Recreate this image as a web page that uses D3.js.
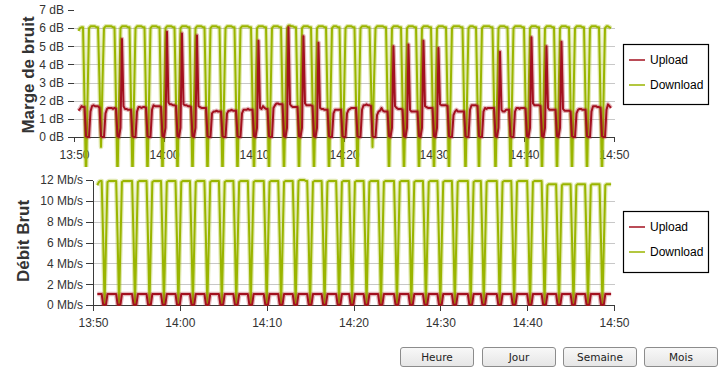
<!DOCTYPE html>
<html>
<head>
<meta charset="utf-8">
<script src="https://cdn.jsdelivr.net/npm/d3@7"></script>
<style>
body { margin: 0; background: #fff; }
#graphes { position: relative; width: 721px; height: 369px; overflow: hidden; }
.axe text { font: 12px "Liberation Sans", Arial, sans-serif; fill: #333; }
.axe path, .axe line { stroke: #3a3a3a; shape-rendering: crispEdges; }
.grille line { stroke: #c8c8c8; shape-rendering: crispEdges; }
.titre { font: bold 17px "Liberation Sans", Arial, sans-serif; fill: #333; }
.legende text { font: 12px "Liberation Sans", Arial, sans-serif; fill: #000; }
.bouton { position: absolute; top: 347px; height: 20px; width: 74px; box-sizing: border-box;
  border: 1px solid #8c8c8c; border-radius: 3px; background: linear-gradient(#f8f8f8, #e6e6e6);
  font: 10.5px "DejaVu Sans", Verdana, sans-serif; color: #222; padding: 0; }
</style>
</head>
<body>
<div id="graphes"></div>
<script>
// Echantillons toutes les 10 s a partir de 13:50:30
var debut = new Date(2014, 0, 1, 13, 50, 0),
    fin = new Date(2014, 0, 1, 14, 50, 0),
    premierPoint = 30,
    pas = 10;

var series = ["Upload", "Download"];
var couleurs = ["#a3101f", "#9ab500"];

var ticksMarge = [0, 1, 2, 3, 4, 5, 6, 7];
var ticksDebit = [0, 2, 4, 6, 8, 10, 12];

// Marge de bruit (dB)
var uploadMarge = [
  1.45, 1.55, 1.7,
  1.65, 1.65, 0.05, 0, 0, 1.4, 1.7, 1.75, 1.7, 1.7,
  1.7, 1.6, 0.05, 0, 0, 1.3, 1.55, 1.6, 1.6, 1.6, 1.55,
  1.6, 1.55, 0.05, 0, 0.5, 5.4, 1.7, 1.55, 1.55, 1.5,
  1.5, 1.5, 0.05, 0, 0, 1.4, 1.65, 1.65, 1.6, 1.65,
  1.65, 1.6, 0.05, 0, 0, 1.5, 1.75, 1.7, 1.7, 1.7,
  1.7, 1.65, 0.05, 0, 0.5, 5.8, 1.9, 1.8, 1.8, 1.75,
  1.75, 1.7, 0.05, 0, 0.5, 5.7, 1.8, 1.75, 1.75, 1.7,
  1.7, 1.65, 0.05, 0, 0.5, 5.6, 1.7, 1.65, 1.6, 1.6,
  1.6, 1.6, 0.05, 0, 0, 1.3, 1.4, 1.4, 1.45, 1.4,
  1.4, 1.4, 0.05, 0, 0, 1.3, 1.45, 1.45, 1.5, 1.45,
  1.45, 1.45, 0.05, 0, 0, 1.3, 1.5, 1.5, 1.5, 1.55, 1.5,
  1.5, 1.5, 0.05, 0, 0.5, 5.3, 1.6, 1.55, 1.7, 1.6,
  1.55, 1.55, 0.05, 0, 0, 1.6, 1.75, 1.85, 1.85, 1.8,
  1.8, 1.8, 0.05, 0, 0.5, 6.05, 1.8, 1.7, 1.65, 1.65,
  1.65, 1.65, 0.05, 0, 0.5, 5.55, 1.85, 1.75, 1.75, 1.75,
  1.75, 1.7, 0.05, 0, 0.5, 5.2, 1.6, 1.55, 1.55, 1.5,
  1.5, 1.5, 0.05, 0, 0, 1.3, 1.5, 1.5, 1.5,
  1.5, 1.5, 0.05, 0, 0, 1.3, 1.5, 1.55, 1.6, 1.6,
  1.6, 1.6, 0.05, 0, 0, 1.5, 1.75, 1.75, 1.8, 1.75,
  1.75, 1.7, 0.05, 0, 0, 1.2, 1.4, 1.45, 1.6, 1.45, 1.4,
  1.4, 1.4, 0.05, 0, 0.5, 5.0, 1.7, 1.6, 1.55, 1.55,
  1.55, 1.5, 0.05, 0, 0.5, 5.1, 1.5, 1.4, 1.4, 1.4,
  1.4, 1.4, 0.05, 0, 0.5, 5.3, 1.7, 1.65, 1.6, 1.6,
  1.6, 1.6, 0.05, 0, 0.5, 4.9, 1.8, 1.75, 1.75, 1.75,
  1.75, 1.7, 0.05, 0, 0, 1.2, 1.4, 1.5, 1.4, 1.4, 1.4,
  1.4, 1.4, 0.05, 0, 0, 1.5, 1.75, 1.75, 1.75,
  1.75, 1.7, 0.05, 0, 0, 1.4, 1.6, 1.55, 1.6, 1.6, 1.6,
  1.6, 1.6, 0.05, 0, 0.5, 4.7, 1.5, 1.4, 1.4, 1.5,
  1.5, 1.5, 0.05, 0, 0, 1.4, 1.6, 1.6, 1.55, 1.6, 1.6,
  1.6, 1.55, 0.05, 0, 0.5, 5.5, 1.85, 1.75, 1.75, 1.75,
  1.75, 1.7, 0.05, 0, 0.5, 5.0, 1.6, 1.5, 1.5, 1.5,
  1.5, 1.5, 0.05, 0, 0.5, 5.25, 1.55, 1.45, 1.45, 1.45,
  1.45, 1.4, 0.05, 0, 0, 1.3, 1.5, 1.55, 1.55, 1.5,
  1.5, 1.5, 0.05, 0, 0, 1.4, 1.7, 1.7, 1.7, 1.65,
  1.65, 1.6, 0.05, 0, 0, 1.5, 1.8, 1.7, 1.6
];

var downloadMarge = [
  5.85, 6.0, 6.05,
  6.05, 2.0, -2.5, 2.0, 6.0, 6.1, 6.1, 6.1, 6.1, 6.05,
  6.05, 3.0, -0.55, 3.0, 6.0, 6.1, 6.1, 6.1, 6.1, 6.1, 6.05,
  6.05, 2.0, -2.5, 2.0, 6.0, 6.1, 6.1, 6.1, 6.1, 6.05,
  6.05, 2.0, -2.5, 2.0, 6.0, 6.1, 6.1, 6.1, 6.1, 6.05,
  6.05, 2.0, -2.5, 2.0, 6.0, 6.1, 6.1, 6.1, 6.1, 6.05,
  6.05, 2.0, -2.5, 2.0, 6.0, 6.1, 6.1, 6.1, 6.1, 6.05,
  6.05, 2.0, -2.5, 2.0, 6.0, 6.1, 6.1, 6.1, 6.1, 6.05,
  6.05, 2.0, -2.5, 2.0, 6.0, 6.1, 6.1, 6.1, 6.1, 6.05,
  6.05, 2.0, -2.5, 2.0, 6.0, 6.1, 6.1, 6.1, 6.1, 6.05,
  6.05, 2.0, -2.5, 2.0, 6.0, 6.1, 6.1, 6.1, 6.1, 6.05,
  6.05, 2.0, -2.5, 2.0, 6.0, 6.1, 6.1, 6.1, 6.1, 6.1, 6.05,
  6.05, 2.0, -2.5, 2.0, 6.0, 6.1, 6.1, 6.1, 6.1, 6.05,
  6.05, 2.0, -2.5, 2.0, 6.0, 6.1, 6.1, 6.1, 6.1, 6.05,
  6.05, 2.0, -2.5, 2.0, 6.0, 6.15, 6.15, 6.1, 6.1, 6.05,
  6.05, 2.0, -2.5, 2.0, 6.0, 6.1, 6.1, 6.1, 6.1, 6.05,
  6.05, 2.0, -2.5, 2.0, 6.0, 6.1, 6.1, 6.1, 6.1, 6.05,
  6.05, 2.0, -2.5, 2.0, 6.0, 6.1, 6.1, 6.1, 6.05,
  6.05, 2.0, -2.5, 2.0, 6.0, 6.1, 6.1, 6.1, 6.1, 6.05,
  6.05, 2.0, -2.5, 2.0, 6.0, 6.1, 6.1, 6.1, 6.1, 6.05,
  6.05, 3.0, -0.55, 3.0, 6.0, 6.1, 6.1, 6.1, 6.1, 6.1, 6.05,
  6.05, 2.0, -2.5, 2.0, 6.0, 6.1, 6.1, 6.1, 6.1, 6.05,
  6.05, 2.0, -2.5, 2.0, 6.0, 6.1, 6.1, 6.1, 6.1, 6.05,
  6.05, 2.0, -2.5, 2.0, 6.0, 6.1, 6.1, 6.1, 6.1, 6.05,
  6.05, 2.0, -2.5, 2.0, 6.0, 6.1, 6.1, 6.1, 6.1, 6.05,
  6.05, 2.0, -2.5, 2.0, 6.0, 6.1, 6.1, 6.1, 6.1, 6.1, 6.05,
  6.05, 2.0, -2.5, 2.0, 6.0, 6.1, 6.1, 6.1, 6.05,
  6.05, 2.0, -2.5, 2.0, 6.0, 6.1, 6.1, 6.1, 6.1, 6.1, 6.05,
  6.05, 2.0, -2.5, 2.0, 6.0, 6.1, 6.1, 6.1, 6.1, 6.05,
  6.05, 2.0, -2.5, 2.0, 6.0, 6.1, 6.1, 6.1, 6.1, 6.1, 6.05,
  6.05, 2.0, -2.5, 2.0, 6.0, 6.1, 6.1, 6.1, 6.1, 6.05,
  6.05, 2.0, -2.5, 2.0, 6.0, 6.1, 6.1, 6.1, 6.1, 6.05,
  6.05, 2.0, -2.5, 2.0, 6.0, 6.1, 6.1, 6.1, 6.1, 6.05,
  6.05, 2.0, -2.5, 2.0, 6.0, 6.1, 6.1, 6.1, 6.1, 6.05,
  6.05, 2.0, -2.5, 2.0, 6.0, 6.1, 6.1, 6.1, 6.1, 6.05,
  6.05, 2.0, -2.5, 2.0, 6.0, 6.1, 6.1, 6.05, 6.0
];

// Debit brut (Mb/s)
var uploadDebit = [
  1.05, 1.05, 1.05,
  1.05, 0.05, 0, 0.05, 1.05, 1.05, 1.05, 1.05, 1.05, 1.05,
  1.05, 0.05, 0, 0.05, 1.05, 1.05, 1.05, 1.05, 1.05, 1.05, 1.05,
  1.05, 0.05, 0, 0.05, 1.05, 1.05, 1.05, 1.05, 1.05, 1.05,
  1.05, 0.05, 0, 0.05, 1.05, 1.05, 1.05, 1.05, 1.05, 1.05,
  1.05, 0.05, 0, 0.05, 1.05, 1.05, 1.05, 1.05, 1.05, 1.05,
  1.05, 0.05, 0, 0.05, 1.05, 1.05, 1.05, 1.05, 1.05, 1.05,
  1.05, 0.05, 0, 0.05, 1.05, 1.05, 1.05, 1.05, 1.05, 1.05,
  1.05, 0.05, 0, 0.05, 1.05, 1.05, 1.05, 1.05, 1.05, 1.05,
  1.05, 0.05, 0, 0.05, 1.05, 1.05, 1.05, 1.05, 1.05, 1.05,
  1.05, 0.05, 0, 0.05, 1.05, 1.05, 1.05, 1.05, 1.05, 1.05,
  1.05, 0.05, 0, 0.05, 1.05, 1.05, 1.05, 1.05, 1.05, 1.05, 1.05,
  1.05, 0.05, 0, 0.05, 1.05, 1.05, 1.05, 1.05, 1.05, 1.05,
  1.05, 0.05, 0, 0.05, 1.05, 1.05, 1.05, 1.05, 1.05, 1.05,
  1.05, 0.05, 0, 0.05, 1.05, 1.05, 1.05, 1.05, 1.05, 1.05,
  1.05, 0.05, 0, 0.05, 1.05, 1.05, 1.05, 1.05, 1.05, 1.05,
  1.05, 0.05, 0, 0.05, 1.05, 1.05, 1.05, 1.05, 1.05, 1.05,
  1.05, 0.05, 0, 0.05, 1.05, 1.05, 1.05, 1.05, 1.05,
  1.05, 0.05, 0, 0.05, 1.05, 1.05, 1.05, 1.05, 1.05, 1.05,
  1.05, 0.05, 0, 0.05, 1.05, 1.05, 1.05, 1.05, 1.05, 1.05,
  1.05, 0.05, 0, 0.05, 1.05, 1.05, 1.05, 1.05, 1.05, 1.05, 1.05,
  1.05, 0.05, 0, 0.05, 1.05, 1.05, 1.05, 1.05, 1.05, 1.05,
  1.05, 0.05, 0, 0.05, 1.05, 1.05, 1.05, 1.05, 1.05, 1.05,
  1.05, 0.05, 0, 0.05, 1.05, 1.05, 1.05, 1.05, 1.05, 1.05,
  1.05, 0.05, 0, 0.05, 1.05, 1.05, 1.05, 1.05, 1.05, 1.05,
  1.05, 0.05, 0, 0.05, 1.05, 1.05, 1.05, 1.05, 1.05, 1.05, 1.05,
  1.05, 0.05, 0, 0.05, 1.05, 1.05, 1.05, 1.05, 1.05,
  1.05, 0.05, 0, 0.05, 1.05, 1.05, 1.05, 1.05, 1.05, 1.05, 1.05,
  1.05, 0.05, 0, 0.05, 1.05, 1.05, 1.05, 1.05, 1.05, 1.05,
  1.05, 0.05, 0, 0.05, 1.05, 1.05, 1.05, 1.05, 1.05, 1.05, 1.05,
  1.05, 0.05, 0, 0.05, 1.05, 1.05, 1.05, 1.05, 1.05, 1.05,
  1.05, 0.05, 0, 0.05, 1.05, 1.05, 1.05, 1.05, 1.05, 1.05,
  1.05, 0.05, 0, 0.05, 1.05, 1.05, 1.05, 1.05, 1.05, 1.05,
  1.05, 0.05, 0, 0.05, 1.05, 1.05, 1.05, 1.05, 1.05, 1.05,
  1.05, 0.05, 0, 0.05, 1.05, 1.05, 1.05, 1.05, 1.05, 1.05,
  1.05, 0.05, 0, 0.05, 1.05, 1.05, 1.05, 1.05, 1.05
];

var downloadDebit = [
  11.5, 11.8, 11.9,
  11.9, 6.5, 0, 6.0, 11.8, 11.9, 11.9, 11.9, 11.9, 11.9,
  11.9, 6.5, 0, 6.0, 11.8, 11.9, 11.9, 11.9, 11.9, 11.9, 11.9,
  11.9, 6.5, 0, 6.0, 11.8, 11.9, 11.9, 11.9, 11.9, 11.9,
  11.9, 6.5, 0, 6.0, 11.8, 11.9, 11.9, 11.9, 11.9, 11.9,
  11.9, 6.5, 0, 6.0, 11.8, 11.9, 11.9, 11.9, 11.9, 11.9,
  11.9, 6.5, 0, 6.0, 11.8, 11.9, 11.9, 11.9, 11.9, 11.9,
  11.9, 6.5, 0, 6.0, 11.8, 11.9, 11.9, 11.9, 11.9, 11.9,
  11.9, 6.5, 0, 6.0, 11.8, 11.9, 11.9, 11.9, 11.9, 11.9,
  11.9, 6.5, 0, 6.0, 11.8, 11.9, 11.9, 11.9, 11.9, 11.9,
  11.9, 6.5, 0, 6.0, 11.8, 11.9, 11.9, 11.9, 11.9, 11.9,
  11.9, 6.5, 0, 6.0, 11.8, 11.9, 11.9, 11.9, 11.9, 11.9, 11.9,
  11.9, 6.5, 0, 6.0, 11.8, 11.9, 11.9, 11.9, 11.9, 11.9,
  11.9, 6.5, 0, 6.0, 11.8, 11.9, 11.9, 11.9, 11.9, 11.9,
  11.9, 6.5, 0, 6.0, 11.9, 12.0, 12.0, 12.0, 12.0, 11.9,
  11.9, 6.5, 0, 6.0, 11.8, 11.9, 11.9, 11.9, 11.9, 11.9,
  11.9, 6.5, 0, 6.0, 11.8, 11.9, 11.9, 11.9, 11.9, 11.9,
  11.9, 6.5, 0, 6.0, 11.8, 11.9, 11.9, 11.9, 11.9,
  11.9, 6.5, 0, 6.0, 11.8, 11.9, 11.9, 11.9, 11.9, 11.9,
  11.9, 6.5, 0, 6.0, 11.8, 11.9, 11.9, 11.9, 11.9, 11.9,
  11.9, 6.5, 0, 6.0, 11.8, 11.9, 11.9, 11.9, 11.9, 11.9, 11.9,
  11.9, 6.5, 0, 6.0, 11.8, 11.9, 11.9, 11.9, 11.9, 11.9,
  11.9, 6.5, 0, 6.0, 11.8, 11.9, 11.9, 11.9, 11.9, 11.9,
  11.9, 6.5, 0, 6.0, 11.8, 11.9, 11.9, 11.9, 11.9, 11.9,
  11.9, 6.5, 0, 6.0, 11.8, 11.9, 11.9, 11.9, 11.9, 11.9,
  11.9, 6.5, 0, 6.0, 11.8, 11.9, 11.9, 11.9, 11.9, 11.9, 11.9,
  11.9, 6.5, 0, 6.0, 11.8, 11.9, 11.9, 11.9, 11.9,
  11.9, 6.5, 0, 6.0, 11.8, 11.9, 11.9, 11.9, 11.9, 11.9, 11.9,
  11.9, 6.5, 0, 6.0, 11.8, 11.9, 11.9, 11.9, 11.9, 11.9,
  11.9, 6.5, 0, 6.0, 11.8, 11.9, 11.9, 11.9, 11.9, 11.9, 11.9,
  11.9, 6.5, 0, 6.0, 11.8, 11.9, 11.9, 11.9, 11.9, 11.9,
  11.9, 6.5, 0, 6.0, 11.5, 11.6, 11.6, 11.6, 11.6, 11.6,
  11.6, 6.3, 0, 5.8, 11.5, 11.6, 11.6, 11.6, 11.6, 11.6,
  11.6, 6.3, 0, 5.8, 11.5, 11.6, 11.6, 11.6, 11.6, 11.6,
  11.6, 6.3, 0, 5.8, 11.5, 11.6, 11.6, 11.6, 11.6, 11.6,
  11.6, 6.3, 0, 5.8, 11.5, 11.6, 11.6, 11.6, 11.6
];

function heure(i) {
    return new Date(debut.getTime() + (premierPoint + i * pas) * 1000);
}

var svg = d3.select("#graphes").append("svg")
    .attr("width", 721)
    .attr("height", 369);

// Un graphe = un cadre, deux courbes, une legende
function graphe(cfg) {
    var g = svg.append("g");
    var x = d3.scaleTime().domain([debut, fin]).range([cfg.x0, cfg.x1]);
    var y = d3.scaleLinear().domain([0, cfg.ticks[cfg.ticks.length - 1]]).range([cfg.y0, cfg.y1]);

    // lignes de grille (sauf 0 et le max)
    g.append("g").attr("class", "grille")
        .selectAll("line")
        .data(cfg.ticks.slice(1, -1))
        .enter().append("line")
        .attr("x1", cfg.x0)
        .attr("x2", cfg.x1 + 1)
        .attr("y1", function(d) { return Math.round(y(d)) + 0.5; })
        .attr("y2", function(d) { return Math.round(y(d)) + 0.5; });

    var axeY = g.append("g").attr("class", "axe")
        .attr("transform", "translate(" + cfg.x0 + ",0)")
        .call(d3.axisLeft(y).tickValues(cfg.ticks).tickSize(cfg.tailleTickY)
            .tickSizeOuter(0).tickPadding(cfg.paddingY)
            .tickFormat(function(d) { return d + " " + cfg.unite; }));
    if (!cfg.axeVertical) axeY.select(".domain").remove();

    g.append("g").attr("class", "axe")
        .attr("transform", "translate(0," + cfg.y0 + ")")
        .call(d3.axisBottom(x).ticks(d3.timeMinute.every(10)).tickSize(cfg.tailleTickX)
            .tickSizeOuter(0).tickPadding(cfg.paddingX)
            .tickFormat(d3.timeFormat("%H:%M")));

    // courbes
    var clipId = "clip" + cfg.nom;
    svg.append("clipPath").attr("id", clipId)
        .append("rect")
        .attr("x", cfg.x0).attr("y", 0)
        .attr("width", cfg.x1 - cfg.x0 + 1).attr("height", cfg.basClip);

    var ligne = d3.line()
        .x(function(d, i) { return x(heure(i)); })
        .y(function(d) { return y(d); });

    var courbes = g.append("g").attr("clip-path", "url(#" + clipId + ")");
    [1, 0].forEach(function(k) {
        courbes.append("path")
            .attr("d", ligne(cfg.valeurs[k]))
            .attr("fill", "none")
            .attr("stroke", couleurs[k])
            .attr("stroke-opacity", 0.3)
            .attr("stroke-width", 4.5)
            .attr("stroke-linejoin", "round");
        courbes.append("path")
            .attr("d", ligne(cfg.valeurs[k]))
            .attr("fill", "none")
            .attr("stroke", couleurs[k])
            .attr("stroke-width", 2)
            .attr("stroke-linejoin", "round");
    });

    // titre vertical
    svg.append("text").attr("class", "titre")
        .attr("transform", "translate(" + cfg.titreX + "," + cfg.titreY + ") rotate(-90)")
        .attr("text-anchor", "middle")
        .text(cfg.titre);

    // legende
    var leg = svg.append("g").attr("class", "legende");
    leg.append("rect")
        .attr("x", 623.5).attr("y", cfg.legendeY + 0.5)
        .attr("width", 85).attr("height", cfg.legendeH)
        .attr("fill", "#fff").attr("stroke", "#000").attr("stroke-width", 1.2);
    series.forEach(function(s, k) {
        var yy = cfg.legendeY + 16 + k * 25;
        leg.append("line")
            .attr("x1", 629).attr("x2", 645)
            .attr("y1", yy).attr("y2", yy)
            .attr("stroke", couleurs[k]).attr("stroke-width", 1.5);
        leg.append("text")
            .attr("x", 650).attr("y", yy + 4)
            .text(s);
    });
}

graphe({
    nom: "Marge", titre: "Marge de bruit", unite: "dB",
    ticks: ticksMarge, valeurs: [uploadMarge, downloadMarge],
    x0: 74, x1: 614, y0: 137, y1: 10,
    tailleTickY: 6, paddingY: 4, tailleTickX: 5, paddingX: 8,
    axeVertical: false, basClip: 167,
    titreX: 34, titreY: 75,
    legendeY: 44, legendeH: 60
});

graphe({
    nom: "Debit", titre: "Débit Brut", unite: "Mb/s",
    ticks: ticksDebit, valeurs: [uploadDebit, downloadDebit],
    x0: 93, x1: 614, y0: 305, y1: 180,
    tailleTickY: 7, paddingY: 3, tailleTickX: 6, paddingX: 7,
    axeVertical: true, basClip: 306,
    titreX: 29, titreY: 241,
    legendeY: 211, legendeH: 61
});

// boutons de periode
var boutons = ["Heure", "Jour", "Semaine", "Mois"];
d3.select("#graphes").selectAll("button")
    .data(boutons)
    .enter().append("button")
    .attr("class", "bouton")
    .style("left", function(d, i) { return [400, 482, 563, 644][i] + "px"; })
    .text(function(d) { return d; });
</script>
</body>
</html>
